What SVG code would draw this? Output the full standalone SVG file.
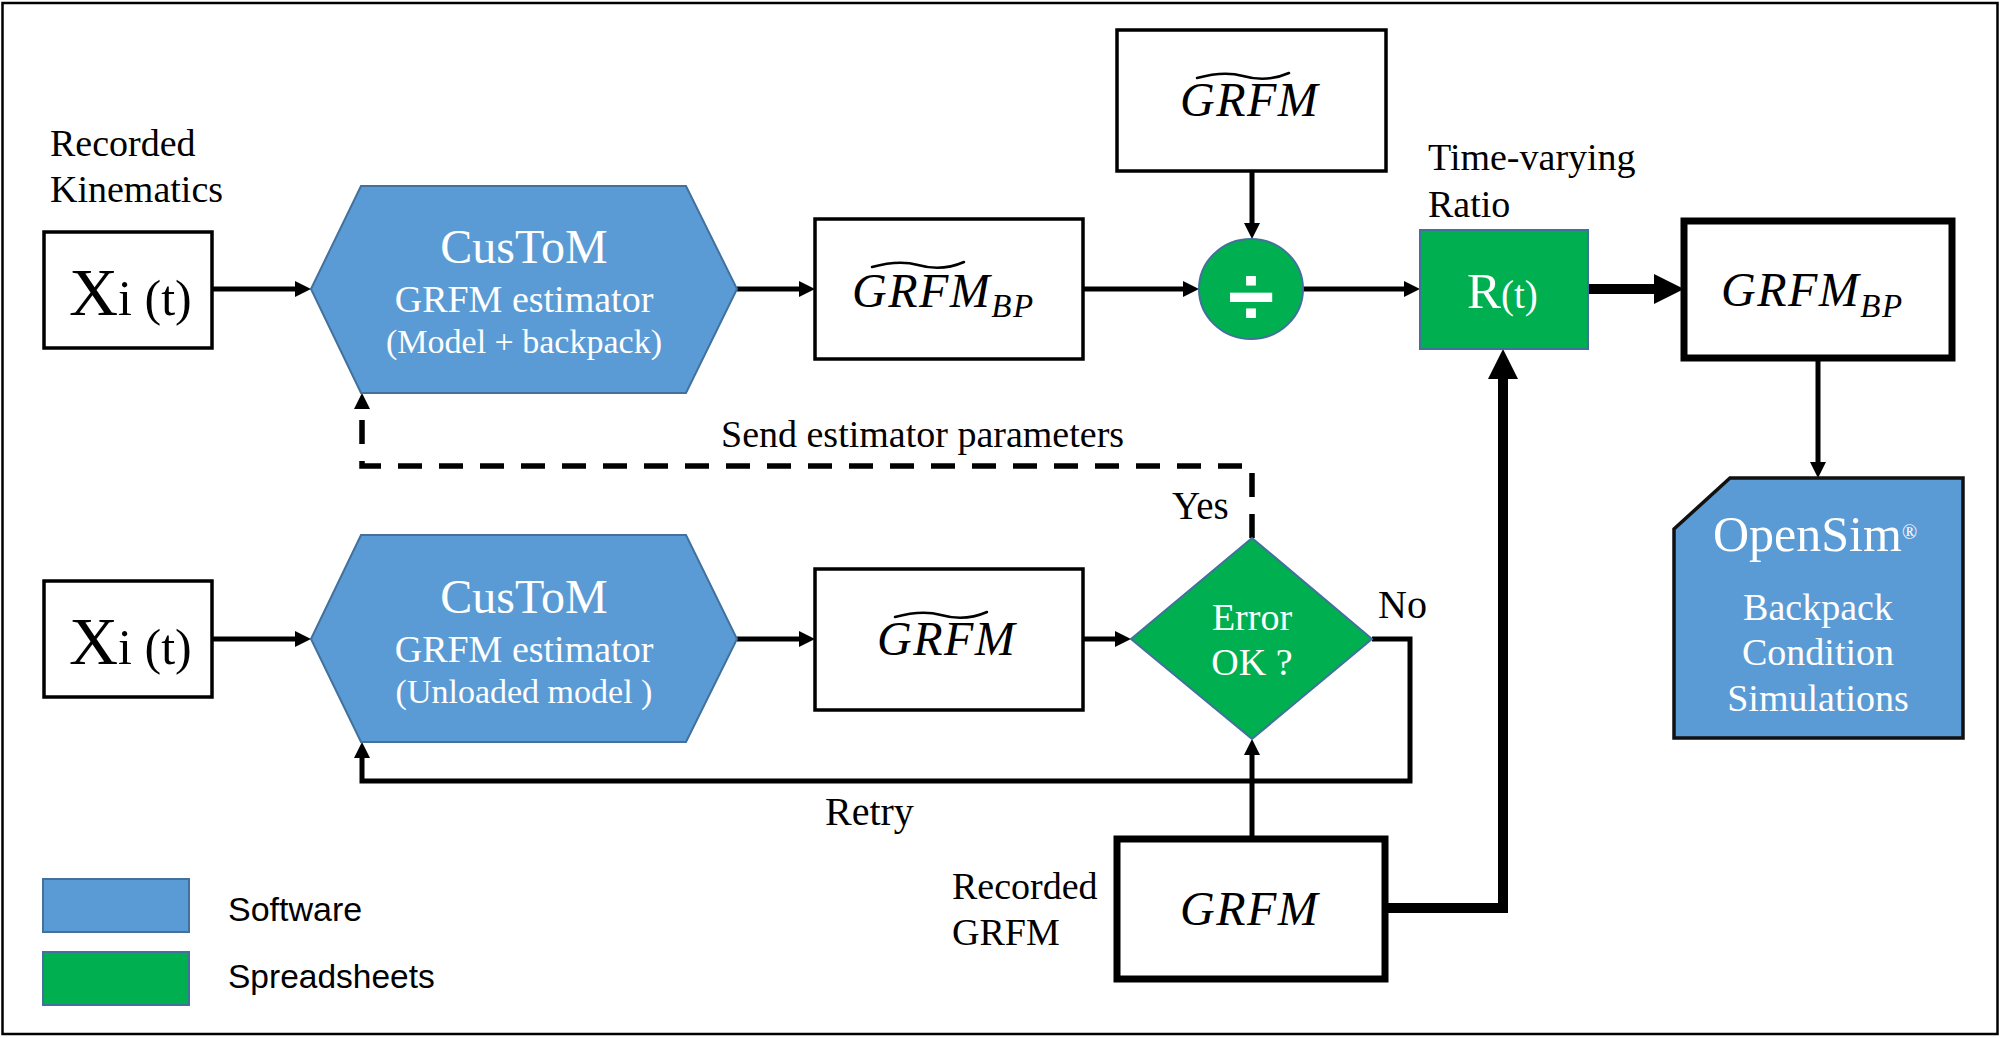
<svg xmlns="http://www.w3.org/2000/svg" xmlns:xlink="http://www.w3.org/1999/xlink" width="2003" height="1038" viewBox="0 0 2003 1038">
<style>
.serif{font-family:"Liberation Serif","Times New Roman",serif;fill:#000}
.wt{font-family:"Liberation Serif","Times New Roman",serif;fill:#fff}
.math{font-family:"Liberation Serif","Times New Roman",serif;font-style:italic;fill:#000;letter-spacing:1.5px}
.sans{font-family:"Liberation Sans",Arial,sans-serif;fill:#000}
.box{fill:#fff;stroke:#000;stroke-width:3.5}
.boxb{fill:#fff;stroke:#000;stroke-width:7}
.soft{fill:#5B9BD5;stroke:#41719C;stroke-width:2}
.sheet{fill:#00B050;stroke:#41719C;stroke-width:2}
.ln{fill:none;stroke:#000;stroke-width:5}
.lnb{fill:none;stroke:#000;stroke-width:10}
.dash{fill:none;stroke:#000;stroke-width:5.5;stroke-dasharray:24 17}
.tilde{fill:none;stroke:#000;stroke-width:2.5;stroke-linecap:round}
</style>
<defs>
<marker id="ah" markerUnits="userSpaceOnUse" markerWidth="16" markerHeight="16" refX="4" refY="8" orient="auto">
<path d="M0,0 L16,8 L0,16 z" fill="#000"/>
</marker>
<marker id="ahb" markerUnits="userSpaceOnUse" markerWidth="30" markerHeight="30" refX="8" refY="15" orient="auto">
<path d="M0,0 L30,15 L0,30 z" fill="#000"/>
</marker>
<path id="tl" d="M0,3 C18,-2 32,-3 46,1 C60,5 76,5 92,-2"/>
</defs>

<rect x="2.5" y="3" width="1995" height="1031" fill="#fff" stroke="#000" stroke-width="2.5"/>

<g id="connectors">
<path class="ln" d="M212,289 H299" marker-end="url(#ah)"/>
<path class="ln" d="M737,289 H803" marker-end="url(#ah)"/>
<path class="ln" d="M1083,289 H1187" marker-end="url(#ah)"/>
<path class="ln" d="M1252,171 V227" marker-end="url(#ah)"/>
<path class="ln" d="M1303,289 H1408" marker-end="url(#ah)"/>
<path class="lnb" d="M1588,289 H1662" marker-end="url(#ahb)"/>
<path class="ln" d="M1818,358 V466" marker-end="url(#ah)"/>
<path class="ln" d="M212,639 H299" marker-end="url(#ah)"/>
<path class="ln" d="M737,639 H803" marker-end="url(#ah)"/>
<path class="ln" d="M1083,639 H1119" marker-end="url(#ah)"/>
<path class="ln" d="M1252,837 V751" marker-end="url(#ah)"/>
<path class="ln" d="M1372,639 H1410 V781 H362 V754" marker-end="url(#ah)"/>
<path class="dash" d="M1252,538 V466 H362 V405" marker-end="url(#ah)"/>
<path class="lnb" d="M1386,908 H1503 V371" marker-end="url(#ahb)"/>
</g>

<g id="label-recorded-kinematics">
<text class="serif" x="50" y="156" font-size="38">Recorded</text>
<text class="serif" x="50" y="202" font-size="38">Kinematics</text>
</g>

<g id="xi1">
<rect class="box" x="44" y="232" width="168" height="116"/>
<text class="serif" x="69" y="315"><tspan font-size="68">X</tspan><tspan font-size="50">i (t)</tspan></text>
</g>

<g id="custom1">
<polygon class="soft" points="311,289 361,186 686,186 737,289 686,393 361,393"/>
<text class="wt" x="524" y="263" font-size="48" text-anchor="middle">CusToM</text>
<text class="wt" x="524" y="312" font-size="38" text-anchor="middle">GRFM estimator</text>
<text class="wt" x="524" y="353" font-size="34" text-anchor="middle">(Model + backpack)</text>
</g>

<g id="grfm-bp-est">
<rect class="box" x="815" y="219" width="268" height="140"/>
<use href="#tl" xlink:href="#tl" class="tilde" x="872" y="264"/>
<text class="math" x="852" y="307" font-size="48">GRFM<tspan font-size="33" dy="10">BP</tspan></text>
</g>

<g id="grfm-est-top">
<rect class="box" x="1117" y="30" width="269" height="141"/>
<use href="#tl" xlink:href="#tl" class="tilde" x="1197" y="75"/>
<text class="math" x="1180" y="116" font-size="48">GRFM</text>
</g>

<g id="divide">
<ellipse class="sheet" cx="1251" cy="289" rx="52" ry="50"/>
<text x="1251" y="325" font-family="Liberation Sans, Arial, sans-serif" font-weight="bold" font-size="84" fill="#fff" text-anchor="middle">÷</text>
</g>

<g id="label-ratio">
<text class="serif" x="1428" y="170" font-size="38">Time-varying</text>
<text class="serif" x="1428" y="217" font-size="38">Ratio</text>
</g>

<g id="ratio">
<rect class="sheet" x="1420" y="230" width="168" height="119"/>
<text class="wt" x="1467" y="308"><tspan font-size="51">R</tspan><tspan font-size="39">(t)</tspan></text>
</g>

<g id="grfm-bp">
<rect class="boxb" x="1684" y="221" width="268" height="137"/>
<text class="math" x="1721" y="306" font-size="48">GRFM<tspan font-size="33" dy="11">BP</tspan></text>
</g>

<g id="opensim">
<polygon points="1730,478 1963,478 1963,738 1674,738 1674,529" fill="#5B9BD5" stroke="#111" stroke-width="3.5"/>
<text class="wt" x="1713" y="551" font-size="50">OpenSim<tspan font-size="20" dy="-12">®</tspan></text>
<text class="wt" x="1818" y="620" font-size="38" text-anchor="middle">Backpack</text>
<text class="wt" x="1818" y="665" font-size="38" text-anchor="middle">Condition</text>
<text class="wt" x="1818" y="711" font-size="38" text-anchor="middle">Simulations</text>
</g>

<g id="label-send">
<text class="serif" x="721" y="447" font-size="38">Send estimator parameters</text>
<text class="serif" x="1172" y="519" font-size="39">Yes</text>
</g>

<g id="xi2">
<rect class="box" x="44" y="581" width="168" height="116"/>
<text class="serif" x="69" y="664"><tspan font-size="68">X</tspan><tspan font-size="50">i (t)</tspan></text>
</g>

<g id="custom2">
<polygon class="soft" points="311,639 361,535 686,535 737,639 686,742 361,742"/>
<text class="wt" x="524" y="613" font-size="48" text-anchor="middle">CusToM</text>
<text class="wt" x="524" y="662" font-size="38" text-anchor="middle">GRFM estimator</text>
<text class="wt" x="524" y="703" font-size="34" text-anchor="middle">(Unloaded model )</text>
</g>

<g id="grfm-est">
<rect class="box" x="815" y="569" width="268" height="141"/>
<use href="#tl" xlink:href="#tl" class="tilde" x="895" y="614"/>
<text class="math" x="877" y="655" font-size="48">GRFM</text>
</g>

<g id="error-check">
<polygon class="sheet" points="1131,639 1252,538 1372,639 1252,739"/>
<text class="wt" x="1252" y="630" font-size="38" text-anchor="middle">Error</text>
<text class="wt" x="1252" y="675" font-size="38" text-anchor="middle">OK ?</text>
</g>

<g id="labels-loop">
<text class="serif" x="1378" y="618" font-size="40">No</text>
<text class="serif" x="825" y="825" font-size="40">Retry</text>
</g>

<g id="recorded-grfm">
<text class="serif" x="952" y="899" font-size="38">Recorded</text>
<text class="serif" x="952" y="945" font-size="38">GRFM</text>
<rect class="boxb" x="1117" y="839" width="268" height="140"/>
<text class="math" x="1180" y="925" font-size="48">GRFM</text>
</g>

<g id="legend">
<rect class="soft" x="43" y="879" width="146" height="53"/>
<text class="sans" x="228" y="921" font-size="34">Software</text>
<rect class="sheet" x="43" y="952" width="146" height="53"/>
<text class="sans" x="228" y="988" font-size="33.5">Spreadsheets</text>
</g>
</svg>
